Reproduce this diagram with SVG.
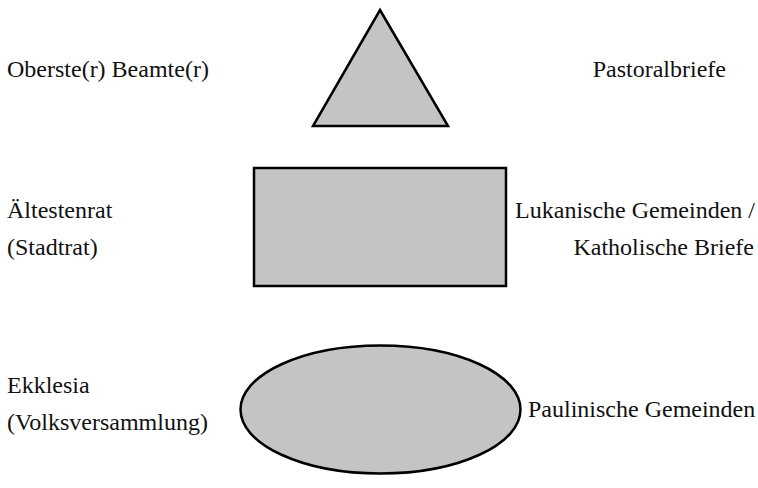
<svg xmlns="http://www.w3.org/2000/svg" width="758" height="488" viewBox="0 0 758 488">
<style>
.shape{fill:#c4c4c4;stroke:#000;stroke-width:2.5}
text{font-family:"Liberation Serif","Times New Roman",serif;font-size:24px;fill:#111}
.r{text-anchor:end}
</style>
<rect width="758" height="488" fill="#fff"/>
<g id="connectors"></g>
<g id="triangle"><polygon class="shape" points="380,10 448,126 313,126"/></g>
<g id="rectangle"><rect class="shape" x="254" y="168" width="252" height="118"/></g>
<g id="ellipse"><ellipse class="shape" cx="380.5" cy="409.5" rx="140" ry="64"/></g>
<g id="label-oberste"><text x="7" y="77">Oberste(r) Beamte(r)</text></g>
<g id="label-pastoral"><text class="r" x="726" y="77">Pastoralbriefe</text></g>
<g id="label-aelteste"><text x="7" y="218">Ältestenrat</text><text x="7" y="255">(Stadtrat)</text></g>
<g id="label-lukanisch"><text class="r" x="755" y="218">Lukanische Gemeinden /</text><text class="r" x="754" y="255">Katholische Briefe</text></g>
<g id="label-ekklesia"><text x="7" y="393">Ekklesia</text><text x="7" y="430">(Volksversammlung)</text></g>
<g id="label-paulinisch"><text x="528" y="417">Paulinische Gemeinden</text></g>
</svg>
